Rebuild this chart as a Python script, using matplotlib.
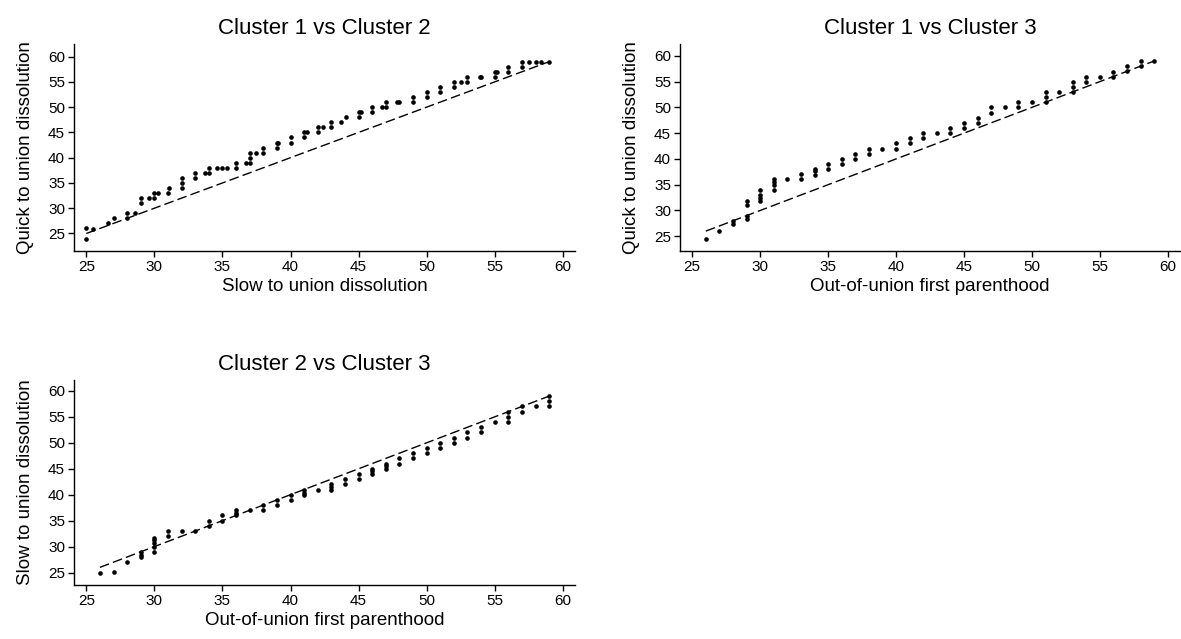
import matplotlib
matplotlib.use("Agg")
import matplotlib.pyplot as plt

plt.rcParams["font.family"] = ["Liberation Sans", "DejaVu Sans"]

# Cluster 1 vs Cluster 2 (quantile pairs)
x12 = [25, 25, 25.5, 26.6, 27, 28, 28, 28.6, 29, 29, 29.6, 30, 30, 30.3, 31, 31.1,
       32, 32, 32, 33, 33, 33.7, 34, 34, 34.6, 35, 35.3, 36, 36, 36.7, 37, 37, 37,
       37.5, 38, 38, 39, 39, 39.1, 40, 40, 41, 41, 41.2, 42, 42, 42.4, 43, 43, 43.7,
       44.1, 45, 45, 45.2, 46, 46, 46.7, 47, 47, 47.8, 48, 49, 49, 50, 50, 51, 51,
       52, 52, 52.5, 53, 53, 53.9, 54, 55, 55, 55.2, 56, 56, 57, 57, 57.5, 58, 58.4, 59]
y12 = [26, 23.9, 25.9, 27, 28, 28, 29, 29, 31, 32, 32, 32, 33, 33, 33, 34,
       34, 35, 36, 36, 37, 37, 37, 38, 38, 38, 38, 38, 39, 39, 39, 40, 41,
       41, 41, 42, 42, 43, 43, 43, 44, 44, 45, 45, 46, 45, 46, 47, 46, 47,
       48, 49, 48, 49, 50, 49, 50, 50, 51, 51, 51, 52, 51, 53, 52, 54, 53,
       55, 54, 55, 56, 55, 56, 56, 57, 56, 57, 58, 57, 59, 58, 59, 59, 59, 59]

# Cluster 1 vs Cluster 3
x13 = [26, 27, 28, 28, 29, 29, 29, 29, 30, 30, 30, 30, 31, 31, 31, 31, 32, 33, 33,
       34, 34, 34, 35, 35, 36, 36, 37, 37, 38, 38, 39, 40, 40, 41, 41, 42, 42, 43,
       44, 44, 45, 45, 46, 46, 47, 47, 48, 49, 49, 50, 51, 51, 51, 52, 53, 53, 53,
       54, 54, 55, 56, 56, 57, 57, 58, 58, 59]
y13 = [24.5, 26, 28, 27.4, 31.9, 31, 29, 28.4, 34, 33, 32.4, 31.9, 36.1, 35.6, 34.9, 34,
       36.1, 37, 36.1, 38.1, 37.6, 36.9, 39, 38, 40, 39, 41, 40, 42, 41, 42, 43, 42,
       44, 43, 45, 44, 45, 46, 45, 47, 46, 48, 47, 50, 49, 50, 51, 50, 51, 52.9, 52,
       51, 52.9, 54.9, 54, 53, 55.9, 54.9, 55.9, 56.9, 55.9, 58, 57, 59, 58, 59]

# Cluster 2 vs Cluster 3
x23 = [26, 27, 28, 29, 29, 29, 30, 30, 30, 30, 30, 31, 31, 32, 33, 34, 34, 35, 35,
       36, 36, 36, 37, 38, 38, 39, 39, 40, 40, 41, 41, 41, 42, 43, 43, 43, 44, 44,
       45, 45, 46, 46, 46, 47, 47, 47, 48, 48, 49, 49, 50, 50, 51, 51, 52, 52, 53,
       53, 54, 54, 55, 56, 56, 56, 57, 57, 58, 59, 59, 59]
y23 = [25, 25.2, 27, 28.9, 28.4, 27.9, 31.6, 31.2, 30.6, 30, 29, 33, 32, 33, 33, 35,
       34, 36, 35, 37, 36.5, 36, 37, 38, 37, 39, 38, 40, 39, 41, 40.4, 39.9, 41, 42,
       41.5, 40.9, 43, 42, 44, 43, 45, 44.5, 44, 46, 45.5, 45, 47, 46, 48, 47, 49,
       48, 50, 49, 51, 50, 52, 51, 53, 52, 54, 56, 55, 54, 57, 56, 57, 59, 58, 57]

panels = [
    (x12, y12, "Cluster 1 vs Cluster 2", "Slow to union dissolution",
     "Quick to union dissolution", [0.0627, 0.6077, 0.4242, 0.3235], (21.6, 62.5)),
    (x13, y13, "Cluster 1 vs Cluster 3", "Out-of-union first parenthood",
     "Quick to union dissolution", [0.5758, 0.6077, 0.4234, 0.3235], (22.2, 62.3)),
    (x23, y23, "Cluster 2 vs Cluster 3", "Out-of-union first parenthood",
     "Slow to union dissolution", [0.0627, 0.0845, 0.4242, 0.3208], (22.6, 62.1)),
]

fig = plt.figure(figsize=(11.81, 6.39), dpi=100)

for x, y, title, xlab, ylab, rect, ylim in panels:
    ax = fig.add_axes(rect)
    lo, hi = min(x), max(x)
    ax.plot([lo, hi], [lo, hi], color="black", lw=1.0, dashes=(7, 3))
    ax.scatter(x, y, s=11, color="black", zorder=3, linewidths=0)
    ax.set_xlim(24.1, 60.9)
    ax.set_ylim(*ylim)
    ax.set_xticks(range(25, 61, 5))
    ax.set_yticks(range(25, 61, 5))
    for s in ["top", "right"]:
        ax.spines[s].set_visible(False)
    for s in ["left", "bottom"]:
        ax.spines[s].set_linewidth(1.0)
    ax.tick_params(direction="out", length=4.5, width=1, labelsize=11, pad=2)
    ax.set_title(title, fontsize=16, pad=7)
    ax.set_xlabel(xlab, fontsize=13.5, labelpad=3)
    ax.set_ylabel(ylab, fontsize=13.5, labelpad=10)

fig.savefig("out.png", dpi=100)
